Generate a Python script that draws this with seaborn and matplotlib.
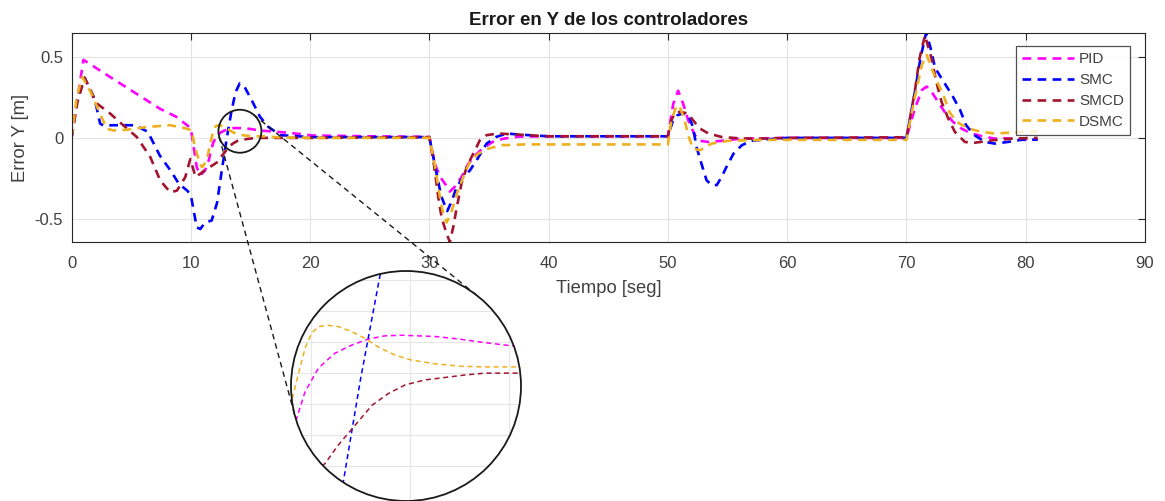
import numpy as np
import pandas as pd
import seaborn as sns
import matplotlib
matplotlib.use("Agg")
import matplotlib.pyplot as plt
from matplotlib.patches import Circle
from matplotlib.lines import Line2D

# ---------------------------------------------------------------- data
controllers = ["PID", "SMC", "SMCD", "DSMC"]

t_pid = [0, 1.0, 3.2, 5.2, 7.4, 8.8, 10.0, 10.25, 10.5, 10.8, 11.2, 11.5, 11.71, 11.88,
         12.15, 12.48, 12.82, 13.16, 13.49, 13.83, 14.17, 14.51, 14.98, 15.52, 16.05,
         17.5, 18.9, 20.2, 25, 30, 30.47, 30.9, 31.3, 31.72, 32.14, 32.7, 33.26, 33.8,
         34.4, 35.3, 36.2, 37.5, 40, 50, 50.45, 50.86, 51.28, 51.7, 52.26, 52.68, 53.4,
         54.5, 56, 60, 70, 70.7, 71.3, 71.7, 72.1, 72.65, 73.2, 73.9, 74.6, 75.45, 76.6,
         77.4, 78.2, 80.7, 81]
e_pid = [0, 0.48, 0.376, 0.283, 0.18, 0.129, 0.06, -0.06, -0.18, -0.23, -0.20, -0.14,
         -0.073, -0.03, 0.008, 0.032, 0.045, 0.055, 0.060, 0.061, 0.060, 0.059, 0.055,
         0.049, 0.044, 0.036, 0.026, 0.015, 0.01, 0.006, -0.16, -0.24, -0.28, -0.33,
         -0.30, -0.24, -0.16, -0.11, -0.07, -0.025, -0.005, 0.008, 0.01, 0.01, 0.21,
         0.29, 0.21, 0.109, 0.017, -0.018, -0.025, -0.018, -0.005, 0.0, 0.0, 0.18, 0.295,
         0.316, 0.284, 0.222, 0.16, 0.099, 0.058, 0.027, 0.006, -0.004, -0.002, -0.01,
         -0.01]

t_smc = [0, 0.5, 1.1, 1.97, 2.4, 2.7, 3.5, 5.2, 5.5, 6.4, 7.4, 8.3, 9.0, 9.7, 10.0,
         10.25, 10.5, 10.8, 11.2, 11.75, 12.2, 12.6, 13.0, 13.4, 13.75, 14.1, 14.5, 15.1,
         15.8, 16.5, 17.5, 20, 30, 30.5, 31.0, 31.5, 31.87, 32.3, 32.84, 33.4, 33.96,
         34.8, 35.6, 36.5, 37.6, 40, 50, 50.4, 50.8, 51.28, 51.7, 52.1, 52.4, 52.82,
         53.24, 53.66, 54.1, 54.5, 54.9, 55.5, 56.2, 57.0, 58.1, 60, 70, 70.7, 71.2,
         71.65, 72.0, 72.4, 73.2, 73.9, 74.5, 75.0, 75.7, 76.6, 77.4, 78.5, 79.6, 81]
e_smc = [0, 0.25, 0.37, 0.23, 0.088, 0.075, 0.078, 0.078, 0.072, 0.037, -0.108, -0.2,
         -0.282, -0.324, -0.35, -0.45, -0.55, -0.56, -0.52, -0.508, -0.40, -0.20, -0.01,
         0.16, 0.28, 0.335, 0.315, 0.233, 0.13, 0.068, 0.017, 0.005, 0.005, -0.18, -0.36,
         -0.45, -0.39, -0.30, -0.24, -0.20, -0.138, -0.035, 0.006, 0.027, 0.02, 0.01,
         0.01, 0.10, 0.14, 0.15, 0.14, 0.068, -0.056, -0.16, -0.26, -0.29, -0.29, -0.24,
         -0.18, -0.097, -0.045, -0.018, -0.01, 0.0, 0.0, 0.28, 0.50, 0.645, 0.56, 0.43,
         0.336, 0.253, 0.171, 0.078, 0.017, -0.025, -0.035, -0.025, -0.012, -0.01]

t_smcd = [0, 0.5, 1.1, 2.12, 3.24, 4.35, 5.48, 6.6, 7.44, 8.28, 8.84, 9.54, 9.96, 10.4,
          10.9, 11.3, 11.8, 12.28, 12.55, 12.89, 13.23, 13.56, 13.9, 14.3, 14.71, 15.11,
          15.52, 16.2, 20, 30, 30.4, 30.75, 31.03, 31.45, 31.72, 32.0, 32.3, 32.7, 33.13,
          33.68, 34.24, 34.8, 35.78, 37.5, 40, 50, 50.3, 50.6, 51.0, 51.7, 52.1, 52.68,
          53.4, 54.5, 56.2, 58, 60, 70, 70.7, 71.1, 71.55, 72.1, 72.5, 72.94, 73.5,
          74.06, 74.9, 75.7, 77.3, 79.0, 81]
e_smcd = [0, 0.22, 0.37, 0.212, 0.15, 0.077, 0.005, -0.117, -0.262, -0.335, -0.324,
          -0.241, -0.13, -0.24, -0.215, -0.19, -0.17, -0.146, -0.116, -0.084, -0.052,
          -0.033, -0.019, -0.011, -0.007, -0.003, 0.0, 0.0, 0.0, 0.005, -0.17, -0.365,
          -0.49, -0.59, -0.64, -0.55, -0.427, -0.28, -0.18, -0.097, -0.014, 0.017, 0.027,
          0.02, 0.01, 0.01, 0.11, 0.155, 0.16, 0.15, 0.109, 0.058, 0.027, 0.006, -0.004,
          -0.004, 0.0, 0.004, 0.284, 0.49, 0.63, 0.49, 0.346, 0.222, 0.12, 0.037, -0.025,
          -0.03, -0.014, -0.004, 0.0]

t_dsmc = [0, 0.44, 0.9, 1.55, 2.39, 2.95, 3.5, 4.63, 6.3, 8.26, 9.5, 10.07, 10.35, 10.77,
          10.95, 11.33, 11.61, 11.74, 11.88, 12.01, 12.15, 12.35, 12.55, 12.82, 13.09,
          13.36, 13.7, 14.03, 14.51, 15.04, 15.52, 16.12, 17.5, 20, 30, 30.47, 30.9,
          31.17, 31.45, 31.87, 32.3, 32.84, 33.4, 34.1, 34.94, 36.06, 38, 50, 50.3, 50.73,
          51.0, 51.4, 51.7, 52.1, 52.7, 53.66, 55.06, 58, 70, 70.7, 71.3, 71.7, 72.0,
          72.5, 73.1, 73.6, 74.2, 75.2, 76.3, 77.4, 78.8, 81]
e_dsmc = [0, 0.25, 0.375, 0.29, 0.15, 0.057, 0.046, 0.05, 0.067, 0.078, 0.06, 0.046,
          -0.057, -0.16, -0.18, -0.14, -0.044, -0.003, 0.04, 0.064, 0.075, 0.077, 0.075,
          0.067, 0.056, 0.042, 0.029, 0.021, 0.015, 0.011, 0.01, 0.01, 0.003, 0.0, 0.0,
          -0.17, -0.37, -0.47, -0.52, -0.45, -0.345, -0.24, -0.148, -0.097, -0.066,
          -0.045, -0.04, -0.04, 0.109, 0.20, 0.19, 0.109, 0.017, -0.066, -0.076, -0.035,
          -0.018, -0.012, -0.012, 0.25, 0.45, 0.51, 0.45, 0.356, 0.264, 0.16, 0.099,
          0.058, 0.037, 0.027, 0.033, 0.04]

x_ticks = [0, 10, 20, 30, 40, 50, 60, 70, 80, 90]
y_ticks = [-0.5, 0, 0.5]
y_tick_labels = ["-0.5", "0", "0.5"]

# zoomed view (magnifier)
zoom_xlim = (11.596, 16.242)
zoom_ylim = (-0.206, 0.1645)
zoom_xgrid = [12, 14, 16]
zoom_ygrid = [-0.15, -0.1, -0.05, 0, 0.05, 0.1, 0.15]
lens_center = (14.12, 0.041)

# ---------------------------------------------------------------- table
frames = []
for name, t, e in [("PID", t_pid, e_pid), ("SMC", t_smc, e_smc),
                   ("SMCD", t_smcd, e_smcd), ("DSMC", t_dsmc, e_dsmc)]:
    frames.append(pd.DataFrame({"t": t, "e": e, "ctrl": name}))
df = pd.concat(frames, ignore_index=True)

palette = {"PID": "#FF00FF", "SMC": "#0000FF", "SMCD": "#A2142F", "DSMC": "#EDB120"}
dash_map = {k: (3.3, 2.4) for k in controllers}

# ---------------------------------------------------------------- style
sns.set_theme(style="white")
plt.rcParams["font.family"] = ["Liberation Sans", "DejaVu Sans"]
plt.rcParams["axes.unicode_minus"] = False
text_col = "#404040"

W, H, DPI = 1165, 501, 100
fig = plt.figure(figsize=(W / DPI, H / DPI), dpi=DPI)
fig.patch.set_facecolor("white")

def px_box(x0, y0, x1, y1):
    """pixel box (image coords, y down) -> figure fraction rect"""
    return [x0 / W, (H - y1) / H, (x1 - x0) / W, (y1 - y0) / H]

ax = fig.add_axes(px_box(71.5, 33, 1145, 242))

sns.lineplot(data=df, x="t", y="e", hue="ctrl", style="ctrl", hue_order=controllers,
             style_order=controllers, palette=palette, dashes=dash_map,
             estimator=None, sort=False, lw=1.9, legend=False, ax=ax)

ax.set_xlim(x_ticks[0], x_ticks[-1])
ax.set_ylim(df["e"].min(), df["e"].max())
ax.set_xticks(x_ticks)
ax.set_xticklabels([str(v) for v in x_ticks])
ax.set_yticks(y_ticks)
ax.set_yticklabels(y_tick_labels)
ax.grid(True, color="#E3E3E3", lw=0.8)
ax.set_axisbelow(True)
for s in ax.spines.values():
    s.set_color("#262626")
    s.set_linewidth(0.8)
ax.tick_params(direction="in", top=True, right=True, length=5, width=0.8,
               color="#262626", labelsize=12, labelcolor=text_col)
ax.tick_params(axis="x", pad=10)
ax.tick_params(axis="y", pad=6)

ax.set_title("Error en Y de los controladores", fontsize=13.5, fontweight="bold",
             color="#1a1a1a", pad=6)
ax.set_xlabel("Tiempo [seg]", fontsize=13.2, color=text_col)
ax.set_ylabel("Error Y [m]", fontsize=13.2, color=text_col)
ax.xaxis.set_label_coords(0.5, -0.18)
ax.yaxis.set_label_coords(-0.040, 0.5)

leg = ax.legend(handles=ax.lines[:4], labels=controllers, loc="upper right",
                bbox_to_anchor=(1130 / W, (H - 46) / H), bbox_transform=fig.transFigure,
                borderaxespad=0, fontsize=11, frameon=True, fancybox=False,
                handlelength=3.4, handletextpad=0.3, labelspacing=0.45,
                borderpad=0.4)
leg.get_frame().set_edgecolor("#262626")
leg.get_frame().set_linewidth(0.9)
for txt in leg.get_texts():
    txt.set_color(text_col)

# ---------------------------------------------------------------- magnifier
big_c = (406.0, 386.0)   # pixel centre (image coords)
big_r = 115.0
ax_in = fig.add_axes(px_box(big_c[0] - big_r, big_c[1] - big_r,
                            big_c[0] + big_r, big_c[1] + big_r))
ax_in.set_frame_on(False)
clip = Circle((0.5, 0.5), 0.5, transform=ax_in.transAxes)
ax_in.add_patch(Circle((0.5, 0.5), 0.5, transform=ax_in.transAxes,
                       facecolor="white", edgecolor="none", zorder=0))
sns.lineplot(data=df, x="t", y="e", hue="ctrl", style="ctrl", hue_order=controllers,
             style_order=controllers, palette=palette, dashes=dash_map,
             estimator=None, sort=False, lw=1.1, legend=False, ax=ax_in)
for v in zoom_xgrid:
    ax_in.axvline(v, color="#E6E6E6", lw=0.8, zorder=1).set_clip_path(clip)
for v in zoom_ygrid:
    ax_in.axhline(v, color="#E6E6E6", lw=0.8, zorder=1).set_clip_path(clip)
for ln in ax_in.lines:
    ln.set_clip_path(clip)
ax_in.set_xlim(*zoom_xlim)
ax_in.set_ylim(*zoom_ylim)
ax_in.set_xticks([])
ax_in.set_yticks([])
ax_in.set_xlabel("")
ax_in.set_ylabel("")
ax_in.add_patch(Circle((0.5, 0.5), 0.5, transform=ax_in.transAxes, facecolor="none",
                       edgecolor="#1a1a1a", lw=1.3, zorder=5, clip_on=False))

# small lens on the main axes and the two tangent connectors
fig.canvas.draw()
sx, sy = ax.transData.transform(lens_center)          # display px, y up
small_r = 21.5
bx, by = big_c[0], H - big_c[1]
fig.add_artist(Circle((sx / DPI, sy / DPI), small_r / DPI, transform=fig.dpi_scale_trans,
                      facecolor="none", edgecolor="#1a1a1a", lw=1.3, zorder=6))
dx, dy = bx - sx, by - sy
D = np.hypot(dx, dy)
base = np.arctan2(dy, dx)
alpha = np.arccos((small_r - big_r) / D)
for sgn in (1, -1):
    ang = base + sgn * alpha
    n = np.array([np.cos(ang), np.sin(ang)])
    p1 = np.array([sx, sy]) + small_r * n
    p2 = np.array([bx, by]) + big_r * n
    fig.add_artist(Line2D([p1[0] / DPI, p2[0] / DPI], [p1[1] / DPI, p2[1] / DPI],
                          transform=fig.dpi_scale_trans, color="#1a1a1a", lw=1.0,
                          dashes=(4, 3), zorder=6))

fig.savefig("out.png", dpi=DPI, facecolor="white")
